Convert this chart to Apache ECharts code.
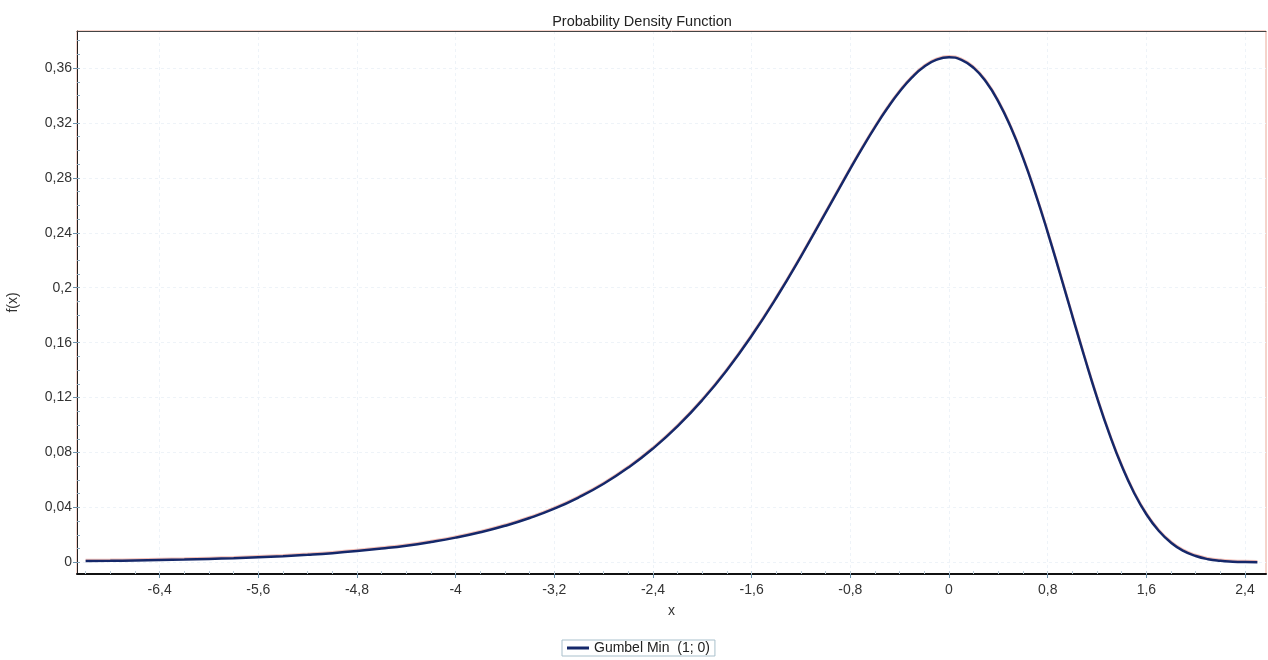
<!DOCTYPE html>
<html>
<head>
<meta charset="utf-8">
<script src="https://cdn.jsdelivr.net/npm/echarts@6/dist/echarts.min.js"></script>
<style>
html,body{margin:0;padding:0;background:#fff;}
#c{width:1268px;height:660px;}
</style>
</head>
<body>
<div id="c"></div>
<script>
var xValues = [-7.0,-6.8,-6.6,-6.4,-6.2,-6.0,-5.8,-5.6,-5.4,-5.2,-5.0,-4.8,-4.6,-4.4,-4.2,-4.0,-3.8,-3.6,-3.4,-3.2,-3.0,-2.8,-2.6,-2.4,-2.2,-2.0,-1.8,-1.6,-1.4,-1.2,-1.0,-0.9,-0.8,-0.7,-0.6,-0.5,-0.4,-0.3,-0.2,-0.1,0.0,0.1,0.2,0.3,0.4,0.5,0.6,0.7,0.8,0.9,1.0,1.1,1.2,1.3,1.4,1.5,1.6,1.7,1.8,1.9,2.0,2.1,2.2,2.3,2.4,2.5];
var fValues = [0.0009,0.0011,0.0014,0.0017,0.0020,0.0025,0.0030,0.0037,0.0045,0.0055,0.0067,0.0082,0.0100,0.0121,0.0148,0.0180,0.0219,0.0266,0.0323,0.0391,0.0474,0.0572,0.0690,0.0829,0.0992,0.1182,0.1401,0.1650,0.1927,0.2229,0.2547,0.2708,0.2867,0.3022,0.3170,0.3307,0.3429,0.3532,0.3611,0.3661,0.3679,0.3660,0.3601,0.3500,0.3356,0.3170,0.2946,0.2688,0.2404,0.2102,0.1794,0.1490,0.1200,0.0936,0.0703,0.0507,0.0350,0.0230,0.0143,0.0083,0.0046,0.0023,0.0011,0.0005,0.0002,0.0001];
var xTicks = [-6.4,-5.6,-4.8,-4.0,-3.2,-2.4,-1.6,-0.8,0,0.8,1.6,2.4];
var yTicks = [0,0.04,0.08,0.12,0.16,0.2,0.24,0.28,0.32,0.36];
var xMinorTicks = [-7.0,-6.8,-6.6,-6.4,-6.2,-6.0,-5.8,-5.6,-5.4,-5.2,-5.0,-4.8,-4.6,-4.4,-4.2,-4.0,-3.8,-3.6,-3.4,-3.2,-3.0,-2.8,-2.6,-2.4,-2.2,-2.0,-1.8,-1.6,-1.4,-1.2,-1.0,-0.8,-0.6,-0.4,-0.2,0,0.2,0.4,0.6,0.8,1.0,1.2,1.4,1.6,1.8,2.0,2.2,2.4];
var yMinorTicks = [0,0.01,0.02,0.03,0.04,0.05,0.06,0.07,0.08,0.09,0.10,0.11,0.12,0.13,0.14,0.15,0.16,0.17,0.18,0.19,0.20,0.21,0.22,0.23,0.24,0.25,0.26,0.27,0.28,0.29,0.30,0.31,0.32,0.33,0.34,0.35,0.36,0.37,0.38];
var seriesName = 'Gumbel Min  (1; 0)';

var XMIN = -7.07, XMAX = 2.57, YMIN = -0.0085, YMAX = 0.387;
var fmt = function (v) { return String(Math.round(v * 100) / 100).replace('.', ','); };
var FONT = 'Liberation Sans, Arial, sans-serif';

var chart = echarts.init(document.getElementById('c'), null, {renderer: 'canvas'});
chart.setOption({
  animation: false,
  backgroundColor: '#fff',
  title: {
    text: 'Probability Density Function',
    left: 637, top: 9, textAlign: 'center',
    textStyle: {fontFamily: FONT, fontSize: 14.5, fontWeight: 'normal', color: '#222'}
  },
  legend: {
    data: [seriesName],
    left: 562, top: 640, width: 151, height: 17,
    padding: [1, 5, 1, 5],
    borderColor: '#a9c0cc', borderWidth: 1,
    itemWidth: 22, itemHeight: 3, itemGap: 4,
    icon: 'rect',
    textStyle: {fontFamily: FONT, fontSize: 14, color: '#222'}
  },
  grid: {
    left: 77, top: 31, right: 2, bottom: 86,
    outerBoundsMode: 'none', containLabel: false,
    show: true, borderColor: '#eaa898', borderWidth: 1, backgroundColor: '#fff'
  },
  xAxis: [{
    type: 'value', min: XMIN, max: XMAX,
    name: 'x', nameLocation: 'middle', nameGap: 30,
    nameTextStyle: {fontFamily: FONT, fontSize: 14, color: '#333'},
    axisLine: {onZero: false, lineStyle: {color: '#111', width: 2}},
    axisTick: {show: true, customValues: xTicks, length: 4, inside: false, lineStyle: {color: '#6a8ea8'}},
    axisLabel: {customValues: xTicks, formatter: fmt, fontFamily: FONT, fontSize: 14, color: '#333', margin: 9},
    splitLine: {show: true, lineStyle: {color: '#eef3f8', type: [3, 3], width: 1}}
  }, {
    type: 'value', min: XMIN, max: XMAX, position: 'bottom',
    axisLine: {show: false, onZero: false},
    axisTick: {show: true, customValues: xMinorTicks, length: 3, inside: true, lineStyle: {color: '#b8c8d4'}},
    axisLabel: {show: false}, splitLine: {show: false}
  }, {
    type: 'value', min: XMIN, max: XMAX, position: 'top',
    axisLine: {show: true, onZero: false, lineStyle: {color: '#444', width: 1}},
    axisTick: {show: false}, axisLabel: {show: false}, splitLine: {show: false}
  }],
  yAxis: [{
    type: 'value', min: YMIN, max: YMAX,
    name: 'f(x)', nameLocation: 'middle', nameGap: 57, nameRotate: 90,
    nameTextStyle: {fontFamily: FONT, fontSize: 14, color: '#333'},
    axisLine: {show: true, onZero: false, lineStyle: {color: '#222', width: 1}},
    axisTick: {show: true, customValues: yTicks, length: 4, lineStyle: {color: '#6a8ea8'}},
    axisLabel: {customValues: yTicks, formatter: fmt, fontFamily: FONT, fontSize: 14, color: '#333', margin: 5},
    splitLine: {show: true, lineStyle: {color: '#eef3f8', type: [3, 3], width: 1}}
  }, {
    type: 'value', min: YMIN, max: YMAX, position: 'left',
    axisLine: {show: false, onZero: false},
    axisTick: {show: true, customValues: yMinorTicks, length: 3, inside: true, lineStyle: {color: '#8aa8bc'}},
    axisLabel: {show: false}, splitLine: {show: false}
  }],
  series: [{
    name: seriesName,
    type: 'line',
    data: xValues.map(function (x, i) { return [x, fValues[i]]; }),
    smooth: true,
    symbol: 'none',
    lineStyle: {color: '#15286a', width: 2.5, shadowColor: 'rgba(230,110,90,0.45)', shadowBlur: 0, shadowOffsetY: -1},
    itemStyle: {color: '#15286a'}
  }]
});
</script>
</body>
</html>
